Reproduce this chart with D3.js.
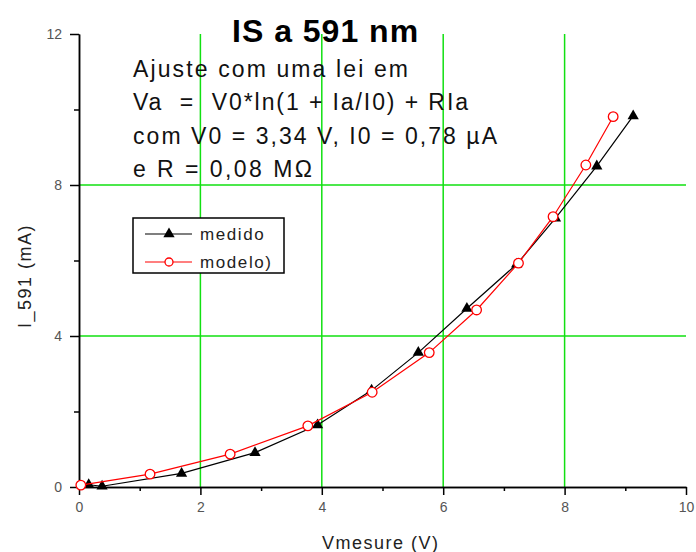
<html>
<head>
    <title>IS a 591 nm</title>
    <script src="https://d3js.org/d3.v7.min.js"></script>
    <style>
        body { margin: 0; background: #fff; }
        text { font-family: "Liberation Sans", Arial, sans-serif; }
        .tick text { font-size: 14px; fill: #555; }
        .domain, .tick line { stroke: #000; stroke-width: 1.5; }
    </style>
</head>
<body>
    <svg width="696" height="552"></svg>

    <script>
        const medidoV = [0.16, 0.38, 1.69, 2.90, 3.93, 4.82, 5.59, 6.39, 7.21, 7.85, 8.53, 9.13];
        const medidoI = [0.06, 0.02, 0.36, 0.91, 1.64, 2.56, 3.56, 4.73, 5.90, 7.12, 8.50, 9.83];
        // model values
        const modeloV = [0.03, 1.17, 2.49, 3.77, 4.83, 5.77, 6.55, 7.24, 7.81, 8.35, 8.80];
        const modeloI = [0.05, 0.34, 0.87, 1.62, 2.51, 3.56, 4.69, 5.93, 7.16, 8.53, 9.81];

        const xMajor = [0, 2, 4, 6, 8, 10];
        const xMinor = [1, 3, 5, 7, 9];
        const yMajor = [0, 4, 8, 12];
        const yMinor = [2, 6, 10];
        const xGrid = [2, 4, 6, 8];
        const yGrid = [4, 8];

        const seriesNames = ['medido', 'modelo)'];
        const titleText = 'IS a 591 nm';
        const noteLines = [
            'Ajuste com uma lei em',
            'Va  =  V0*ln(1 + Ia/I0) + RIa',
            'com V0 = 3,34 V, I0 = 0,78 \u00b5A',
            'e R = 0,08 M\u03a9'
        ];
        const noteWidths = [275, 335, 364, 179];

        const svg = d3.select('svg');

        const x = d3.scaleLinear().domain([0, 10]).range([79, 686]);
        const y = d3.scaleLinear().domain([0, 12]).range([487, 34]);

        // green grid
        const gridG = svg.append('g');
        gridG.selectAll('.vgrid').data(xGrid).enter().append('line')
            .attr('x1', d => x(d)).attr('x2', d => x(d))
            .attr('y1', y(0)).attr('y2', y(12))
            .attr('stroke', '#11e011').attr('stroke-width', 1.5);
        gridG.selectAll('.hgrid').data(yGrid).enter().append('line')
            .attr('x1', x(0)).attr('x2', x(10))
            .attr('y1', d => y(d)).attr('y2', d => y(d))
            .attr('stroke', '#11e011').attr('stroke-width', 1.5);

        // axes
        svg.append('g')
            .attr('transform', `translate(0,${y(0)})`)
            .call(d3.axisBottom(x).tickValues(xMinor).tickSize(4).tickSizeOuter(0).tickFormat(''));
        svg.append('g')
            .attr('transform', `translate(0,${y(0)})`)
            .call(d3.axisBottom(x).tickValues(xMajor).tickSize(8).tickPadding(7).tickSizeOuter(0));
        svg.append('g')
            .attr('transform', `translate(${x(0)},0)`)
            .call(d3.axisLeft(y).tickValues(yMinor).tickSize(5).tickSizeOuter(0).tickFormat(''));
        svg.append('g')
            .attr('transform', `translate(${x(0)},0)`)
            .call(d3.axisLeft(y).tickValues(yMajor).tickSize(9).tickPadding(8).tickSizeOuter(0));

        // axis titles
        svg.append('text')
            .attr('x', 322).attr('y', 549)
            .style('font-size', '18px').style('letter-spacing', '1.5px')
            .attr('fill', '#222')
            .text('Vmesure (V)');
        svg.append('text')
            .attr('transform', 'translate(31,328) rotate(-90)')
            .style('font-size', '18px').style('letter-spacing', '1.5px')
            .attr('fill', '#222')
            .text('I_591 (mA)');

        // series
        const medido = medidoV.map((v, i) => [v, medidoI[i]]);
        const modelo = modeloV.map((v, i) => [v, modeloI[i]]);
        const line = d3.line().x(d => x(d[0])).y(d => y(d[1]));

        svg.append('path').datum(medido)
            .attr('d', line).attr('fill', 'none')
            .attr('stroke', '#000').attr('stroke-width', 1.2);
        svg.selectAll('.tri').data(medido).enter().append('path')
            .attr('d', d3.symbol(d3.symbolTriangle, 55))
            .attr('transform', d => `translate(${x(d[0])},${y(d[1])})`)
            .attr('fill', '#000');

        svg.append('path').datum(modelo)
            .attr('d', line).attr('fill', 'none')
            .attr('stroke', '#f00').attr('stroke-width', 1.2);
        svg.selectAll('.circ').data(modelo).enter().append('circle')
            .attr('cx', d => x(d[0])).attr('cy', d => y(d[1]))
            .attr('r', 4.8)
            .attr('fill', '#fff').attr('stroke', '#f00').attr('stroke-width', 1.3);

        // title and note
        svg.append('text')
            .attr('x', 232).attr('y', 42)
            .style('font-size', '32px').style('font-weight', 'bold').style('letter-spacing', '1px')
            .attr('fill', '#000')
            .text(titleText);

        svg.selectAll('.note').data(noteLines).enter().append('text')
            .attr('x', 133)
            .attr('y', (d, i) => 77 + i * 33.3)
            .attr('textLength', (d, i) => noteWidths[i])
            .attr('lengthAdjust', 'spacing')
            .style('font-size', '23px').style('white-space', 'pre')
            .attr('fill', '#111')
            .text(d => d);

        // legend
        const legendG = svg.append('g');
        legendG.append('rect')
            .attr('x', 133).attr('y', 218).attr('width', 151).attr('height', 55)
            .attr('fill', '#fff').attr('stroke', '#000').attr('stroke-width', 1.5);
        const rows = [234, 262];
        legendG.append('line').attr('x1', 145).attr('x2', 192).attr('y1', rows[0]).attr('y2', rows[0])
            .attr('stroke', '#000').attr('stroke-width', 1.2);
        legendG.append('path')
            .attr('d', d3.symbol(d3.symbolTriangle, 55))
            .attr('transform', `translate(169,${rows[0]})`).attr('fill', '#000');
        legendG.append('line').attr('x1', 145).attr('x2', 192).attr('y1', rows[1]).attr('y2', rows[1])
            .attr('stroke', '#f00').attr('stroke-width', 1.2);
        legendG.append('circle').attr('cx', 169).attr('cy', rows[1]).attr('r', 4)
            .attr('fill', '#fff').attr('stroke', '#f00').attr('stroke-width', 1.3);
        legendG.selectAll('.ltext').data(seriesNames).enter().append('text')
            .attr('x', 200).attr('y', (d, i) => rows[i] + 6)
            .style('font-size', '17px').style('letter-spacing', '1.6px')
            .attr('fill', '#222')
            .text(d => d);
    </script>
</body>
</html>
